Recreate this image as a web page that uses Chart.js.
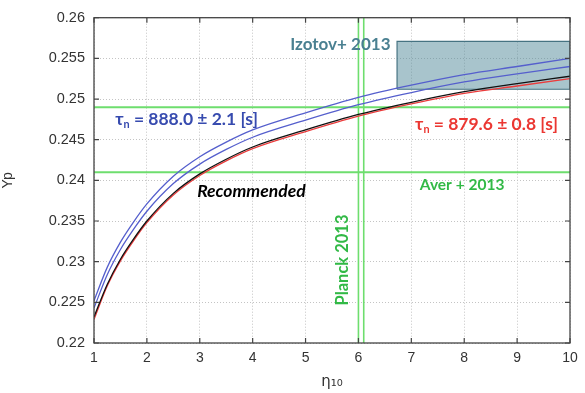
<!DOCTYPE html>
<html>
<head>
<meta charset="utf-8">
<script src="https://cdn.jsdelivr.net/npm/chart.js@4/dist/chart.umd.min.js"></script>
<style>
html,body{margin:0;padding:0;background:#fff;}
canvas{display:block;}
</style>
</head>
<body>
<canvas id="c" width="585" height="393"></canvas>
<script>
// ---- data ----
const eta = [1, 1.25, 1.5, 1.75, 2, 2.5, 3, 3.5, 4, 5, 6, 7, 8, 9, 10];
const ypBlueHigh   = [0.2252,0.2293,0.2324,0.2349,0.2371,0.2405,0.2429,0.2447,0.2462,0.2483,0.2502,0.2517,0.2530,0.2540,0.2550];
const ypBlueLow    = [0.2243,0.2284,0.2315,0.2340,0.2362,0.2396,0.2420,0.2438,0.2453,0.2474,0.2493,0.2508,0.2521,0.2531,0.2540];
const ypRecommended= [0.2232,0.2272,0.2303,0.2328,0.2350,0.2384,0.2408,0.2426,0.2441,0.2462,0.2481,0.2496,0.2509,0.2519,0.2528];
const ypRed        = [0.2229,0.2270,0.2301,0.2326,0.2348,0.2382,0.2406,0.2424,0.2439,0.2460,0.2479,0.2494,0.2507,0.2516,0.2525];
const averYp   = [0.241, 0.249];
const planckEta = [6.0, 6.1];
const izotovEta = [6.73, 10];
const izotovYp  = [0.2512, 0.2571];
const xTicks = [1,2,3,4,5,6,7,8,9,10];
const xTickLabels = ['1','2','3','4','5','6','7','8','9','10'];
const yTicks = [0.22,0.225,0.23,0.235,0.24,0.245,0.25,0.255,0.26];
const yTickLabels = ['0.22','0.225','0.23','0.235','0.24','0.245','0.25','0.255','0.26'];

const pts = (ys) => eta.map((e,i)=>({x:e,y:ys[i]}));
const GREEN = 'rgb(110,222,110)';
const curve = (label, ys, color) => ({label, data: pts(ys), borderColor: color, borderWidth: 1.3,
  pointRadius: 0, fill: false, cubicInterpolationMode: 'monotone'});

const datasets = [
  curve('tau888hi', ypBlueHigh, 'rgb(85,95,205)'),
  curve('tau888lo', ypBlueLow, 'rgb(85,95,205)'),
  curve('Recommended', ypRecommended, '#111'),
  curve('tau879', ypRed, 'rgb(235,60,60)'),
];
averYp.forEach(v => datasets.push({label:'Aver', data:[{x:1,y:v},{x:10,y:v}], borderColor: GREEN, borderWidth: 2, pointRadius:0, fill:false}));
planckEta.forEach(v => datasets.push({label:'Planck', data:[{x:v,y:0.22},{x:v,y:0.26}], borderColor: GREEN, borderWidth: 1.6, pointRadius:0, fill:false}));
datasets.push({label:'Izotov', data:[
  {x:izotovEta[0],y:izotovYp[0]},{x:izotovEta[0],y:izotovYp[1]},{x:izotovEta[1],y:izotovYp[1]},
  {x:izotovEta[1],y:izotovYp[0]},{x:izotovEta[0],y:izotovYp[0]}],
  borderColor:'rgb(70,115,130)', borderWidth:1.2, backgroundColor:'rgba(81,137,153,0.5)', pointRadius:0, fill:'shape', tension:0});

const textLabels = [
  {x:4.71, y:0.25667, sub:false, text:'Izotov+ 2013', color:'rgb(74,128,145)', size:17, style:'bold'},
  {x:1.40, y:0.2475, sub:true, text:' = 888.0 \u00b1 2.1 [s]', color:'rgb(55,75,175)', size:17.5, style:'bold'},
  {x:7.07, y:0.2469, sub:true, text:' = 879.6 \u00b1 0.8 [s]', color:'rgb(235,55,50)', size:17.5, style:'bold'},
  {x:2.95, y:0.2387, sub:false, text:'Recommended', color:'#000', size:17.5, style:'italic bold'},
  {x:7.16, y:0.2394, sub:false, text:'Aver + 2013', color:'rgb(50,185,70)', size:15.5, style:'bold'},
];

const decor = {
  id:'decor',
  afterDatasetsDraw(chart){
    const {ctx, chartArea:a, scales:{x, y}} = chart;
    ctx.save();
    ctx.strokeStyle = '#444'; ctx.lineWidth = 1.3;
    ctx.strokeRect(a.left, a.top, a.right-a.left, a.bottom-a.top);
    ctx.lineWidth = 1.2;
    xTicks.forEach(v=>{ const px = x.getPixelForValue(v);
      ctx.beginPath(); ctx.moveTo(px,a.bottom); ctx.lineTo(px,a.bottom-5);
      ctx.moveTo(px,a.top); ctx.lineTo(px,a.top+5); ctx.stroke(); });
    yTicks.forEach(v=>{ const py = y.getPixelForValue(v);
      ctx.beginPath(); ctx.moveTo(a.left,py); ctx.lineTo(a.left+5,py);
      ctx.moveTo(a.right,py); ctx.lineTo(a.right-5,py); ctx.stroke(); });
    ctx.textBaseline = 'middle'; ctx.textAlign = 'left';
    const fam = 'Lato, "Open Sans", sans-serif';
    textLabels.forEach(l=>{
      let px = x.getPixelForValue(l.x); const py = y.getPixelForValue(l.y);
      ctx.fillStyle = l.color;
      if (l.sub){
        ctx.font = `${l.style} ${l.size}px ${fam}`;
        ctx.fillText('\u03c4', px, py); px += ctx.measureText('\u03c4').width;
        ctx.font = `${l.style} ${l.size*0.62}px ${fam}`;
        ctx.fillText('n', px, py + l.size*0.32); px += ctx.measureText('n').width;
      }
      ctx.font = `${l.style} ${l.size}px ${fam}`;
      ctx.fillText(l.text, px, py);
    });
    const ppx = x.getPixelForValue(5.71), ppy = y.getPixelForValue(0.2302);
    ctx.translate(ppx, ppy); ctx.rotate(-Math.PI/2);
    ctx.textAlign='center'; ctx.fillStyle='rgb(50,185,70)';
    ctx.font = 'bold 16.5px ' + fam;
    ctx.fillText('Planck 2013', 0, 0);
    ctx.restore();
  }
};

new Chart(document.getElementById('c'), {
  type:'line',
  data:{datasets},
  options:{
    responsive:false, animation:false,
    layout:{padding:{top:8,right:15,left:0,bottom:0}},
    plugins:{legend:{display:false}, tooltip:{enabled:false}},
    scales:{
      x:{type:'linear', min:1, max:10,
        afterBuildTicks:(s)=>{ s.ticks = xTicks.map(v=>({value:v})); },
        afterFit:(s)=>{ s.height = 50; },
        ticks:{padding:7, color:'#333', font:{family:'"Liberation Sans", Arial, sans-serif', size:14},
          callback:(v)=>xTickLabels[xTicks.indexOf(v)]},
        grid:{color:'#c4c4c4', lineWidth:1, drawTicks:false},
        border:{display:false, dash:[1,2]},
        title:{display:true, text:'\u03b7\u2081\u2080', color:'#333', font:{family:'"DejaVu Sans", sans-serif', size:15}, padding:{top:2,bottom:2}}
      },
      y:{type:'linear', min:0.22, max:0.26,
        afterBuildTicks:(s)=>{ s.ticks = yTicks.map(v=>({value:v})); },
        afterFit:(s)=>{ s.width = 94; },
        ticks:{padding:9, color:'#333', font:{family:'"Liberation Sans", Arial, sans-serif', size:14.5},
          callback:(v)=>{ const i = yTicks.findIndex(t=>Math.abs(t-v)<1e-9); return yTickLabels[i]; }},
        grid:{color:'#c4c4c4', lineWidth:1, drawTicks:false},
        border:{display:false, dash:[1,2]},
        title:{display:true, text:'Yp', color:'#333', font:{family:'"Liberation Sans", Arial, sans-serif', size:14}, padding:{top:0,bottom:0}}
      }
    }
  },
  plugins:[decor]
});
</script>
</body>
</html>
